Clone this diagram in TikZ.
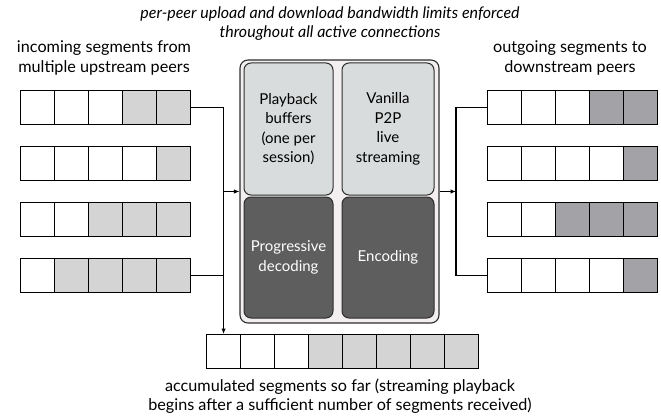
\documentclass[tikz,border=0pt]{standalone}
\usepackage{fontspec}
\setmainfont{Lato}
\usetikzlibrary{arrows.meta}
\definecolor{cellL}{HTML}{D4D4D4}
\definecolor{cellD}{HTML}{A3A2A6}
\definecolor{panel}{HTML}{F3EFF1}
\definecolor{boxL}{HTML}{D9DCDC}
\definecolor{boxD}{HTML}{5E5E5E}
\definecolor{edge}{HTML}{2E2E2E}
\tikzset{
  cell/.style={draw=black, line width=1.1pt, minimum width=34pt, minimum height=34pt, inner sep=0pt, anchor=north west},
  wire/.style={draw=black, line width=1.1pt},
  arr/.style={wire, -{Latex[length=5.5pt,width=4.5pt]}},
  panelbox/.style={draw=edge, line width=1.1pt, fill=panel, rounded corners=8pt},
  unit/.style={draw=edge, line width=1pt, rounded corners=7pt, align=center, font=\fontsize{15}{19.5}\selectfont, inner sep=0pt},
  caption/.style={align=center, font=\fontsize{16.2}{19.5}\selectfont},
  note/.style={align=center, font=\fontsize{16}{19}\selectfont\itshape}
}
\begin{document}
\begin{tikzpicture}[x=1pt,y=-1pt]
\useasboundingbox (0,0) rectangle (661,417);

% incoming rows (left)
\foreach \r/\fills/\y in {1/{white,white,white,cellL,cellL}/90,
                          2/{white,white,white,white,cellL}/146,
                          3/{white,white,cellL,cellL,cellL}/202,
                          4/{white,cellL,cellL,cellL,cellL}/258}{
  \foreach \f [count=\c] in \fills
    \node[cell, fill=\f] (L\r c\c) at ({20+34*(\c-1)},\y) {};
}

% outgoing rows (right)
\foreach \r/\fills/\y in {1/{white,white,white,cellD,cellD}/90,
                          2/{white,white,white,white,cellD}/146,
                          3/{white,white,cellD,cellD,cellD}/202,
                          4/{white,white,white,white,cellD}/258}{
  \foreach \f [count=\c] in \fills
    \node[cell, fill=\f] (R\r c\c) at ({487+34*(\c-1)},\y) {};
}

% accumulated segments (bottom)
\foreach \f [count=\c] in {white,white,white,cellL,cellL,cellL,cellL,cellL}
  \node[cell, fill=\f] (B\c) at ({206+34*(\c-1)},334) {};

% central peer panel
\node[panelbox, minimum width=199pt, minimum height=263pt] (peer) at (339.5,191.5) {};
\node[unit, fill=boxL, minimum width=89pt, minimum height=132pt] (play) at (288.5,129) {Playback\\buffers\\(one per\\session)};
\node[unit, fill=boxL, minimum width=92pt, minimum height=132pt] (vanilla) at (388,129) {Vanilla\\P2P\\live\\streaming};
\node[unit, fill=boxD, text=white, minimum width=89pt, minimum height=121pt] (decode) at (288.5,257.5) {Progressive\\decoding};
\node[unit, fill=boxD, text=white, minimum width=92pt, minimum height=121pt] (encode) at (388,257.5) {Encoding};

% input bus
\coordinate (inbus) at (B1.north |- L1c5.east);
\draw[wire] (L1c5.east) -- (inbus);
\draw[wire] (L4c5.east) -- (L4c5.east -| B1.north);
\draw[arr] (inbus) -- (B1.north);
\draw[arr] (B1.north |- peer.west) -- (peer.west);

% output bus
\coordinate (outbus) at (456,191.5);
\draw[arr] (peer.east) -- (outbus);
\draw[wire] (R1c1.west) -- (R1c1.west -| outbus) -- (R4c1.west -| outbus) -- (R4c1.west);

% labels
\node[note] (limits) at (330,24) {per-peer upload and download bandwidth limits enforced\\throughout all active connections};
\node[caption] (inlabel) at (104,58) {incoming segments from\\multiple upstream peers};
\node[caption] (outlabel) at (570,58) {outgoing segments to\\downstream peers};
\node[caption] (acclabel) at (340,396) {accumulated segments so far (streaming playback\\begins after a sufficient number of segments received)};
\end{tikzpicture}
\end{document}
